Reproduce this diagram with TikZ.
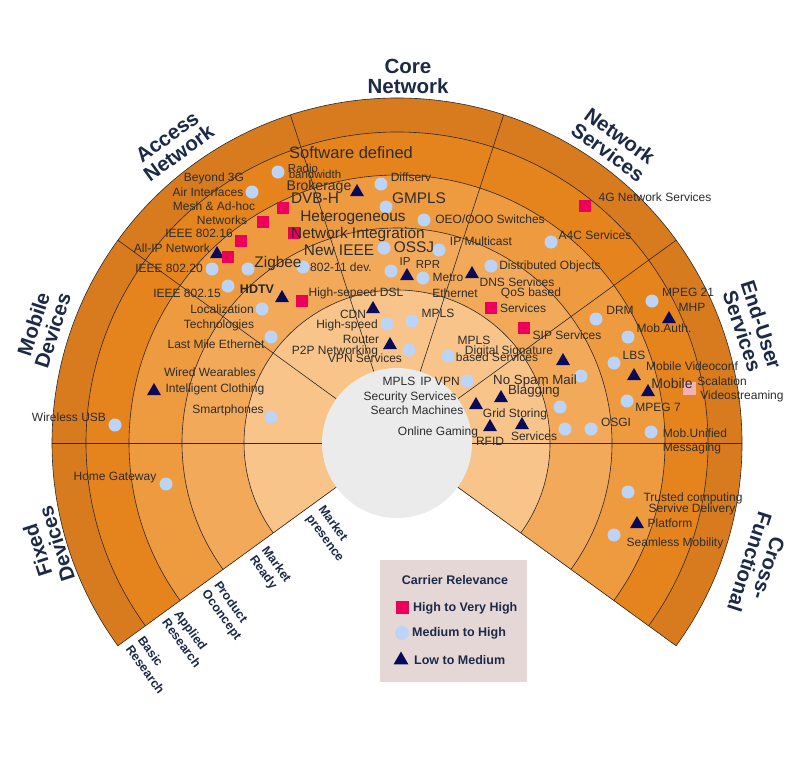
\documentclass[tikz,border=0pt]{standalone}
\usepackage{fontspec}
\setmainfont{Liberation Sans}
\usetikzlibrary{shapes.geometric}
\definecolor{ringA}{RGB}{248,196,137}
\definecolor{ringB}{RGB}{242,170,90}
\definecolor{ringC}{RGB}{238,154,62}
\definecolor{ringD}{RGB}{229,132,28}
\definecolor{ringE}{RGB}{216,123,31}
\definecolor{hubgray}{RGB}{234,235,234}
\definecolor{hotpink}{RGB}{236,0,90}
\definecolor{lightpink}{RGB}{244,178,180}
\definecolor{dotblue}{RGB}{187,212,248}
\definecolor{navym}{RGB}{10,10,90}
\definecolor{navyt}{RGB}{28,42,72}
\definecolor{txtgray}{RGB}{45,45,45}
\definecolor{legbg}{RGB}{230,215,215}
\definecolor{fanln}{RGB}{45,40,40}
\tikzset{
  cim/.style={circle, fill=dotblue, minimum size=13pt, inner sep=0pt},
  sqm/.style={rectangle, fill=hotpink, minimum size=12.5pt, inner sep=0pt},
  sqlight/.style={rectangle, fill=lightpink, minimum size=13pt, inner sep=0pt},
  trm/.style={regular polygon, regular polygon sides=3, fill=navym, minimum size=16pt, inner sep=0pt, yshift=-2pt},
  lbl/.style={text=txtgray, inner sep=0pt, font=\fontsize{12}{14}\selectfont, text height=8.6pt, text depth=0pt},
  lbls/.style={lbl, font=\fontsize{11.5}{13}\selectfont, text height=8.2pt},
  lblm/.style={lbl, font=\fontsize{13.3}{15}\selectfont, text height=9.5pt},
  lbll/.style={lbl, font=\fontsize{14}{16}\selectfont, text height=10pt},
  lblb/.style={lbl, font=\fontsize{15.4}{17}\selectfont, text height=11pt},
  lblx/.style={lbl, font=\fontsize{16.5}{18}\selectfont, text height=11.8pt},
  lblh/.style={lbl, text=black!85, font=\bfseries\fontsize{12.5}{14}\selectfont, text height=9pt},
  ttl/.style={text=navyt, inner sep=0pt, align=center, font=\bfseries\fontsize{20.5}{20}\selectfont},
  rlab/.style={text=navyt, inner sep=0pt, align=left, rotate=-54, anchor=west, font=\bfseries\fontsize{12.5}{15}\selectfont},
  legtxt/.style={text=navyt, inner sep=0pt, font=\bfseries\fontsize{12.5}{14}\selectfont, text height=9pt, text depth=0pt},
  fanline/.style={draw=fanln, line width=0.6pt},
}
\begin{document}
\begin{tikzpicture}[x=1pt, y=-1pt]
\useasboundingbox (0,0) rectangle (800,758);
\fill[white] (0,0) rectangle (800,758);
% ---------------- fan ----------------
\begin{scope}[shift={(397,443)}, y=1pt]
  \fill[ringE] (0,0) -- (-36:345) arc[start angle=-36, end angle=216, radius=345] -- cycle;
  \fill[ringD] (0,0) -- (-36:311) arc[start angle=-36, end angle=216, radius=311] -- cycle;
  \fill[ringC] (0,0) -- (-36:268) arc[start angle=-36, end angle=216, radius=268] -- cycle;
  \fill[ringB] (0,0) -- (-36:215) arc[start angle=-36, end angle=216, radius=215] -- cycle;
  \fill[ringA] (0,0) -- (-36:153) arc[start angle=-36, end angle=216, radius=153] -- cycle;
  \foreach \r in {153,215,268,311,345}
    \draw[fanline] (-36:\r) arc[start angle=-36, end angle=216, radius=\r];
  \foreach \a in {-36,0,36,72,108,144,180,216}
    \draw[fanline] (\a:75) -- (\a:345);
  \fill[hubgray] (0,0) circle[radius=75];
\end{scope}
% ---------------- sector titles ----------------
\node[ttl] (tcore) at (408,76) {Core\\Network};
\node[ttl, rotate=36] (tacc) at (173,145) {Access\\Network};
\node[ttl, rotate=72] (tmob) at (43,327) {Mobile\\Devices};
\node[ttl, rotate=108] (tfix) at (47,547) {Fixed\\Devices};
\node[ttl, rotate=-36] (tnet) at (614,144) {Network\\Services};
\node[ttl, rotate=-72] (tend) at (752,328) {End-User\\Services};
\node[ttl, rotate=-108] (tcross) at (759,565) {Cross-\\Functional};
% ---------------- ring labels ----------------
\node[rlab] (rl1) at (314.5,511.6) {Market\\presence};
\node[rlab] (rl2) at (257.9,552.8) {Market\\Ready};
\node[rlab] (rl3) at (210.2,587.5) {Product\\Oconcept};
\node[rlab] (rl4) at (171.3,615.7) {Applied\\Research};
\node[rlab] (rl5) at (134.9,642.2) {Basic\\Research};
% ---------------- markers ----------------
% mobile / fixed / access
\node[cim] (c1) at (115,425) {};
\node[cim] (c2) at (166,484) {};
\node[cim] (c3) at (271,417) {};
\node[trm] (r1) at (154,389) {};
\node[cim] (c4) at (271,337) {};
\node[cim] (c5) at (262,309) {};
\node[cim] (c6) at (228,286) {};
\node[trm] (r2) at (282,296) {};
\node[sqm] (s1) at (302,301) {};
\node[cim] (c7) at (212,269) {};
\node[cim] (c8) at (248,269) {};
\node[cim] (c9) at (303,267) {};
\node[trm] (r3) at (217,252) {};
\node[sqm] (s2) at (228,257) {};
\node[sqm] (s3) at (241,241) {};
\node[sqm] (s4) at (263,222) {};
\node[sqm] (s5) at (283,208) {};
\node[cim] (c10) at (252,192) {};
% core
\node[cim] (c11) at (278,172) {};
\node[trm] (r4) at (357,190) {};
\node[cim] (c12) at (381,184) {};
\node[cim] (c13) at (386,207) {};
\node[cim] (c14) at (424,220) {};
\node[sqm] (s6) at (294,233) {};
\node[cim] (c15) at (384,248) {};
\node[cim] (c16) at (439,250) {};
\node[cim] (c17) at (391,271) {};
\node[trm] (r5) at (407,274) {};
\node[cim] (c18) at (423,278) {};
\node[trm] (r6) at (373,307) {};
\node[cim] (c19) at (412,321) {};
\node[cim] (c20) at (387,324) {};
\node[trm] (r7) at (390,343) {};
\node[cim] (c21) at (409,350) {};
\node[cim] (c22) at (467,381) {};
% network services
\node[trm] (r8) at (472,272) {};
\node[cim] (c23) at (491,266) {};
\node[sqm] (s7) at (491,308) {};
\node[sqm] (s8) at (524,328) {};
\node[cim] (c24) at (551,242) {};
\node[sqm] (s9) at (585,206) {};
\node[cim] (c25) at (448,356) {};
\node[trm] (r9) at (563,359) {};
\node[trm] (r10) at (501,396) {};
\node[trm] (r11) at (476,403) {};
\node[trm] (r12) at (490,425) {};
\node[trm] (r13) at (522,423) {};
% end-user services
\node[cim] (c26) at (652,301) {};
\node[trm] (r14) at (669,317) {};
\node[cim] (c27) at (596,319) {};
\node[cim] (c28) at (628,337) {};
\node[cim] (c29) at (614,363) {};
\node[trm] (r15) at (634,374) {};
\node[cim] (c30) at (581,376) {};
\node[trm] (r16) at (648,390) {};
\node[sqlight] (s10) at (689,388) {};
\node[cim] (c31) at (560,407) {};
\node[cim] (c32) at (627,401) {};
\node[cim] (c33) at (565,429) {};
\node[cim] (c34) at (591,429) {};
\node[cim] (c35) at (651,432) {};
% cross-functional
\node[cim] (c36) at (628,492) {};
\node[trm] (r17) at (637,522) {};
\node[cim] (c37) at (614,535) {};
% ---------------- texts ----------------
\node[lbl] (t1) at (69,417) {Wireless USB};
\node[lbl] (t2) at (115,476) {Home Gateway};
\node[lbl] (t3) at (228,409) {Smartphones};
\node[lbl] (t4) at (210,372) {Wired Wearables};
\node[lbl] (t5) at (215,388) {Intelligent Clothing};
\node[lbl] (t6) at (216,344) {Last Mile Ethernet};
\node[lbl] (t7) at (222,309) {Localization};
\node[lbl] (t8) at (219,324) {Technologies};
\node[lbl] (t9) at (187,293) {IEEE 802.15};
\node[lblh] (t10) at (257,289) {HDTV};
\node[lbl] (t11) at (356,292) {High-sepeed DSL};
\node[lbl] (t12) at (169,268) {IEEE 802.20};
\node[lblb] (t13) at (278,262) {Zigbee};
\node[lbl] (t14) at (172,248) {All-IP Network};
\node[lbl] (t15) at (199,233) {IEEE 802.16};
\node[lbl] (t16) at (222,220) {Networks};
\node[lbl] (t17) at (214,206) {Mesh \& Ad-hoc};
\node[lbl] (t18) at (208,192) {Air Interfaces};
\node[lbl] (t19) at (214,177) {Beyond 3G};
\node[lbls] (t20) at (303,168) {Radio};
\node[lbls] (t21) at (315,174) {bandwidth};
\node[lblx] (t22) at (351,153) {Software defined};
\node[lbll] (t23) at (319,185) {Brokerage};
\node[lbl] (t24) at (411,177) {Diffserv};
\node[lblb] (t25) at (315,198) {DVB-H};
\node[lblb] (t26) at (419,198) {GMPLS};
\node[lblb] (t27) at (353,216) {Heterogeneous};
\node[lbl] (t28) at (490,219) {OEO/OOO Switches};
\node[lblb] (t29) at (358,233) {Network Integration};
\node[lblb] (t30) at (339,250) {New IEEE};
\node[lblb] (t31) at (414,247) {OSSJ};
\node[lbl] (t32) at (481,241) {IP Multicast};
\node[lbl] (t33) at (341,267) {802-11 dev.};
\node[lbls] (t34) at (405,261) {IP};
\node[lbls] (t35) at (428,264) {RPR};
\node[lbl] (t36) at (448,277) {Metro};
\node[lbl] (t37) at (455,293) {Ethernet};
\node[lbl] (t38) at (353,314) {CDN};
\node[lbl] (t39) at (438,313) {MPLS};
\node[lbl] (t40) at (347,324) {High-speed};
\node[lbl] (t41) at (361,339) {Router};
\node[lbl] (t42) at (335,350) {P2P Networking};
\node[lbl] (t43) at (365,358) {VPN Services};
\node[lbl] (t44) at (399,381) {MPLS};
\node[lbl] (t45) at (440,381) {IP VPN};
\node[lbl] (t46) at (410,396) {Security Services};
\node[lbl] (t47) at (417,410) {Search Machines};
\node[lbl] (t48) at (438,431) {Online Gaming};
\node[lbl] (t49) at (550,265) {Distributed Objects};
\node[lbl] (t50) at (517,282) {DNS Services};
\node[lbl] (t51) at (531,292) {QoS based};
\node[lbl] (t52) at (523,308) {Services};
\node[lbl] (t53) at (567,335) {SIP Services};
\node[lbl] (t54) at (595,235) {A4C Services};
\node[lbl] (t55) at (655,197) {4G Network Services};
\node[lbl] (t56) at (474,340) {MPLS};
\node[lbl] (t57) at (509,350) {Digital Signature};
\node[lbl] (t58) at (497,357) {based Services};
\node[lblm] (t59) at (535,380) {No Spam Mail};
\node[lblm] (t60) at (534,390) {Blagging};
\node[lbl] (t61) at (515,413) {Grid Storing};
\node[lbl] (t62) at (490,441) {RFID};
\node[lbl] (t63) at (534,436) {Services};
\node[lbl] (t64) at (688,292) {MPEG 21};
\node[lbl] (t65) at (692,307) {MHP};
\node[lbl] (t66) at (620,310) {DRM};
\node[lbl] (t67) at (664,328) {Mob.Auth.};
\node[lbl] (t68) at (634,355) {LBS};
\node[lbl] (t69) at (692,366) {Mobile Videoconf};
\node[lbll] (t70) at (672,383) {Mobile};
\node[lbl] (t71) at (722,381) {Scalation};
\node[lbl] (t72) at (742,395) {Videostreaming};
\node[lbl] (t73) at (658,407) {MPEG 7};
\node[lbl] (t74) at (616,422) {OSGI};
\node[lbl] (t75) at (695,433) {Mob.Unified};
\node[lbl] (t76) at (692,447) {Messaging};
\node[lbl] (t77) at (693,497) {Trusted computing};
\node[lbl] (t78) at (692,508) {Servive Delivery};
\node[lbl] (t79) at (670,523) {Platform};
\node[lbl] (t80) at (675,542) {Seamless Mobility};
% ---------------- legend ----------------
\node[fill=legbg, minimum width=147pt, minimum height=122pt, inner sep=0pt, anchor=north west] (legend) at (380,560) {};
\node[legtxt] (lgtitle) at (455,580) {Carrier Relevance};
\node[sqm, minimum size=13pt] (lgsq) at (402,607) {};
\node[legtxt, anchor=west] (lgt1) at (413,607) {High to Very High};
\node[cim, minimum size=14pt] (lgci) at (402,633) {};
\node[legtxt, anchor=west] (lgt2) at (412,632) {Medium to High};
\node[trm, minimum size=17pt] (lgtr) at (401,658) {};
\node[legtxt, anchor=west] (lgt3) at (414,660) {Low to Medium};
\end{tikzpicture}
\end{document}
